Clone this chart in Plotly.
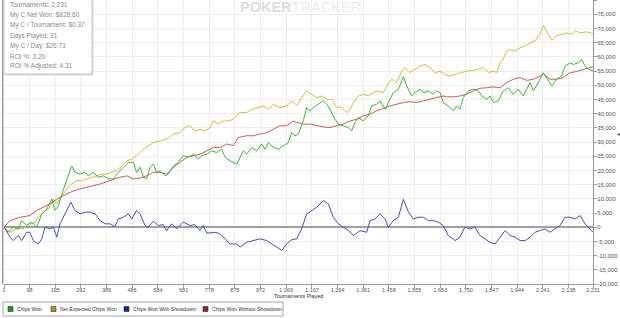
import plotly.graph_objects as go

# ---------------- data ----------------
cw_x = [1, 17, 36, 55, 68, 87, 106, 125, 144, 163, 182, 194, 207, 220, 238, 257, 270, 289, 308, 320,
        339, 358, 377, 396, 415, 434, 453, 472, 491, 503, 516, 529, 541, 554, 566, 579, 592, 611, 623,
        642, 661, 680, 699, 718, 737, 750, 769, 787, 806, 825, 838, 857, 882, 895, 907, 920, 939, 958,
        977, 989, 1002, 1021, 1040, 1059, 1078, 1090, 1103, 1115, 1134, 1147, 1160, 1172, 1191, 1210,
        1223, 1235, 1254, 1267, 1286, 1305, 1317, 1330, 1343, 1361, 1380, 1393, 1412, 1425, 1444, 1462,
        1475, 1494, 1513, 1526, 1544, 1557, 1576, 1589, 1608, 1626, 1639, 1652, 1664, 1683, 1702, 1715,
        1727, 1740, 1759, 1778, 1797, 1810, 1829, 1841, 1854, 1872, 1891, 1910, 1929, 1948, 1967, 1980,
        1993, 2005, 2024, 2043, 2062, 2075, 2093, 2112, 2125, 2144, 2157, 2175, 2188, 2201, 2213, 2231]
cw_y = [0, -1800, 0, -600, 2300, 600, 1800, 0, 4700, 6400, 9900, 5900, 7600, 11700, 16400, 21600, 19300,
        18700, 19300, 18100, 19300, 17600, 18100, 17000, 17000, 19300, 21100, 22800, 22800, 19300, 21100,
        17600, 17000, 21100, 22200, 19300, 19900, 18100, 18700, 21600, 22800, 25200, 24600, 25700, 24000,
        25200, 25700, 26900, 26300, 27500, 24600, 23400, 22200, 24600, 26900, 25700, 28100, 26900, 29300,
        27500, 29800, 28100, 27500, 28700, 29800, 33300, 32200, 32800, 37400, 42100, 41000, 42100, 43300,
        44500, 43300, 41500, 38000, 36300, 35700, 35100, 33900, 36900, 38600, 37400, 39200, 42700, 43300,
        44500, 41500, 45000, 47400, 48600, 53000, 49700, 46200, 47400, 48600, 47400, 48000, 46800, 48000,
        47400, 43900, 42700, 41000, 42700, 41500, 45600, 48000, 48600, 48000, 46200, 45000, 46200, 43900,
        44500, 48000, 49100, 46800, 48600, 46200, 48600, 50900, 48000, 50900, 54400, 51500, 49700, 52100,
        53200, 56700, 57900, 57300, 57900, 59100, 56700, 55600, 55000]

ne_x = [1, 24, 49, 74, 93, 112, 131, 150, 169, 188, 201, 220, 238, 257, 276, 295, 314, 333, 352, 371,
        390, 409, 428, 447, 466, 485, 503, 522, 541, 566, 592, 617, 642, 667, 686, 705, 724, 743, 762,
        781, 794, 812, 831, 850, 869, 895, 920, 939, 964, 983, 1002, 1021, 1046, 1071, 1090, 1109, 1128,
        1147, 1166, 1185, 1204, 1223, 1242, 1261, 1280, 1299, 1311, 1324, 1343, 1361, 1380, 1399, 1418,
        1437, 1450, 1469, 1488, 1507, 1519, 1538, 1557, 1576, 1595, 1614, 1633, 1652, 1671, 1690, 1709,
        1727, 1753, 1778, 1797, 1816, 1835, 1854, 1866, 1879, 1891, 1904, 1917, 1936, 1955, 1974, 1993,
        2011, 2030, 2043, 2056, 2075, 2093, 2112, 2131, 2150, 2163, 2182, 2207, 2231]
ne_y = [0, -1800, -600, -600, 1200, 1200, 3500, 5300, 6400, 9900, 8200, 11100, 13500, 15200, 16400,
        16400, 17000, 17600, 18100, 18700, 18700, 19300, 19900, 21600, 23400, 24000, 25200, 26900, 28100,
        29800, 30400, 31000, 32800, 33300, 35100, 35700, 33900, 34500, 33900, 35100, 37400, 36300, 37400,
        37400, 38000, 40400, 40400, 41500, 42100, 42700, 41500, 43300, 42100, 42700, 44500, 42700, 45600,
        48000, 46800, 45600, 46200, 45000, 45000, 42100, 42100, 40400, 41500, 43900, 46200, 46800, 46200,
        47400, 48000, 47400, 49700, 52100, 50900, 55000, 56200, 54400, 55600, 56700, 57300, 56200, 54400,
        55000, 53800, 53200, 53800, 54400, 55000, 55200, 55600, 56200, 54400, 55000, 54400, 57900, 59100,
        62000, 62600, 62000, 63200, 63800, 64900, 65500, 67900, 71000, 69000, 65800, 67300, 67900, 68400,
        67900, 69300, 68400, 68800, 68100]

ws_x = [1, 24, 36, 55, 68, 87, 99, 112, 131, 144, 156, 175, 188, 201, 213, 232, 254, 270, 289, 308,
        327, 346, 365, 384, 402, 421, 434, 453, 472, 485, 503, 516, 535, 547, 566, 585, 604, 617, 636,
        655, 680, 705, 724, 743, 755, 769, 800, 819, 838, 857, 882, 895, 920, 945, 970, 996, 1015, 1034,
        1053, 1071, 1090, 1109, 1128, 1147, 1166, 1185, 1210, 1229, 1248, 1267, 1286, 1305, 1324, 1349,
        1374, 1387, 1406, 1425, 1444, 1456, 1475, 1494, 1513, 1532, 1551, 1569, 1589, 1608, 1626, 1645,
        1664, 1683, 1709, 1727, 1746, 1765, 1784, 1803, 1822, 1841, 1860, 1879, 1898, 1917, 1936, 1955,
        1974, 1993, 2011, 2030, 2049, 2068, 2087, 2106, 2125, 2144, 2163, 2182, 2201, 2220, 2231]
ws_y = [0, -3500, -4700, -2900, -4700, -1800, -1800, -4700, -5900, -4100, 0, -600, 0, -3500, 1200, 4700,
        8800, 5900, 4700, 5300, 5300, 4700, 2300, 1200, 1200, 200, 2900, 3500, 4700, 2900, 5900, 4700,
        600, 0, 2100, 600, 900, -1200, 1200, -600, 1800, 600, 900, -1200, 600, -2100, -1800, -2300, -4100,
        -5900, -5900, -7000, -5300, -4700, -4100, -4700, -5900, -7000, -8200, -5900, -4400, -4100, -600,
        4700, 5900, 7000, 9400, 8200, 3500, 1200, 0, -1200, -2900, -1200, -1800, 2300, 2900, 4700, 2900,
        0, 2300, 3500, 9800, 5300, 2900, 3500, 3500, 2300, 2300, 1800, 600, -2900, -4700, -3500, 0, -600,
        0, -2900, -4100, -5300, -5900, -3500, -1200, -2900, -3500, -4700, -4700, -3500, -1800, -1200, -600,
        -1800, -600, 600, 3500, 3500, 2900, 4100, 1200, -600, -1800]

wos_x = [1, 24, 62, 99, 125, 150, 175, 201, 226, 251, 289, 327, 365, 402, 440, 466, 491, 516, 541, 566,
         592, 617, 642, 667, 693, 718, 743, 769, 794, 819, 844, 869, 888, 920, 945, 970, 996, 1021, 1046,
         1071, 1096, 1109, 1134, 1160, 1185, 1210, 1235, 1261, 1286, 1311, 1336, 1361, 1387, 1412, 1437,
         1462, 1488, 1513, 1538, 1563, 1589, 1614, 1639, 1664, 1677, 1702, 1727, 1753, 1778, 1803, 1829,
         1854, 1879, 1904, 1929, 1955, 1980, 2005, 2030, 2043, 2068, 2093, 2119, 2144, 2169, 2194, 2220, 2231]
wos_y = [0, 2300, 3500, 4100, 5900, 7000, 8200, 9900, 11100, 12300, 13500, 14300, 15200, 16400, 17600,
         18100, 17000, 17300, 18100, 19300, 19300, 18700, 21000, 22800, 24600, 25200, 25700, 26900, 28100,
         28100, 29300, 28700, 31600, 32200, 32200, 32800, 33300, 34500, 35700, 35700, 37400, 36900, 36300,
         36300, 35700, 35300, 35100, 35700, 36300, 37400, 38000, 39200, 39800, 41000, 41900, 42700, 43300,
         43900, 44200, 43900, 44500, 45000, 45600, 46200, 45900, 45900, 46200, 46800, 48000, 48900, 49100,
         49400, 49100, 50900, 52100, 52700, 51700, 52100, 53200, 54100, 52100, 52100, 52700, 54400, 54800,
         55600, 56400, 56600]

x_ticks = [1, 98, 195, 292, 389, 486, 584, 681, 778, 875, 972, 1069, 1167, 1264, 1361, 1458, 1555,
           1653, 1750, 1847, 1944, 2041, 2138, 2231]
x_tick_text = ["1", "98", "195", "292", "389", "486", "584", "681", "778", "875", "972", "1,069",
               "1,167", "1,264", "1,361", "1,458", "1,555", "1,653", "1,750", "1,847", "1,944", "2,041",
               "2,138", "2,231"]
y_ticks = list(range(-20000, 80001, 5000))
y_tick_text = ["-20,000", "-15,000", "-10,000", "-5,000", "0", "5,000", "10,000", "15,000", "20,000",
               "25,000", "30,000", "35,000", "40,000", "45,000", "50,000", "55,000", "60,000", "65,000",
               "70,000", "75,000", "80,000"]

stats_lines = ["Tournaments: 2,231", "My C Net Won: $828.60", "My C / Tournament: $0.37",
               "Days Played: 31", "My C / Day: $26.73", "ROI %: 2.20", "ROI % Adjusted: 4.31"]

legend_names = ["Chips Won", "Net Expected Chips Won", "Chips Won With Showdown",
                "Chips Won Without Showdown"]
legend_colors = ["#1c9c1c", "#a0a018", "#1c1ca0", "#a01c1c"]

# ---------------- layout geometry ----------------
W, H = 620, 318
ML, MR, MT, MB = 4, 27, 0, 34
PW, PH = W - ML - MR, H - MT - MB


def px(x):
    return (x - ML) / PW


def py(y):
    return (MT + PH - y) / PH


FONT = "Liberation Sans, Arial, sans-serif"

fig = go.Figure()
series = [
    (ne_x, ne_y, "#c8c23c", legend_names[1]),
    (wos_x, wos_y, "#d05a5a", legend_names[3]),
    (cw_x, cw_y, "#3cb83c", legend_names[0]),
    (ws_x, ws_y, "#4c4cc0", legend_names[2]),
]
for xs, ys, col, nm in series:
    fig.add_trace(go.Scatter(x=xs, y=ys, mode="lines", name=nm,
                             line=dict(color=col, width=1), showlegend=False))

shapes = []
annotations = []

# left frame line
shapes.append(dict(type="line", xref="paper", yref="paper", x0=px(2.7), x1=px(2.7), y0=0, y1=1,
                   line=dict(color="#999999", width=1.5), layer="above"))

# stats box
shapes.append(dict(type="rect", xref="paper", yref="paper", x0=px(5), x1=px(93), y0=py(75), y1=py(-2),
                   line=dict(color="#dcdcdc", width=1), fillcolor="#e8e8e8", layer="above"))
shapes.append(dict(type="rect", xref="paper", yref="paper", x0=px(4), x1=px(92), y0=py(74), y1=py(-2),
                   line=dict(color="#c4c4c4", width=1), fillcolor="white", layer="above"))
for i, t in enumerate(stats_lines):
    annotations.append(dict(x=px(8), y=py(4.7 + i * 10.27), xref="paper", yref="paper", text=t,
                            showarrow=False, xanchor="left", yanchor="middle",
                            font=dict(family=FONT, size=6.5, color="#8a8a8a")))

# watermark
annotations.append(dict(x=px(300), y=py(6.5), xref="paper", yref="paper",
                        text="<b>POKER</b><span style='color:#ececec'>TRACKER</span>",
                        showarrow=False, xanchor="center", yanchor="middle",
                        font=dict(family=FONT, size=14.5, color="#dedede")))

# axis title
annotations.append(dict(x=px(298), y=py(296), xref="paper", yref="paper", text="Tournaments Played",
                        showarrow=False, xanchor="center", yanchor="middle",
                        font=dict(family=FONT, size=5.4, color="#333333")))

# small marker at right edge
annotations.append(dict(x=px(618), y=py(133.5), xref="paper", yref="paper", text="◂",
                        showarrow=False, xanchor="center", yanchor="middle",
                        font=dict(family=FONT, size=6, color="#555555")))

# legend box
shapes.append(dict(type="rect", xref="paper", yref="paper", x0=px(3), x1=px(283), y0=py(316), y1=py(302),
                   line=dict(color="#a8a8a8", width=1), fillcolor="white"))
sq_x = [8, 51, 124, 203]
for i, (nm, col) in enumerate(zip(legend_names, legend_colors)):
    shapes.append(dict(type="rect", xref="paper", yref="paper", x0=px(sq_x[i]), x1=px(sq_x[i] + 5),
                       y0=py(311.5), y1=py(306.5), line=dict(color="#333333", width=0.6),
                       fillcolor=col))
    annotations.append(dict(x=px(sq_x[i] + 6.5), y=py(309), xref="paper", yref="paper", text=nm,
                            showarrow=False, xanchor="left", yanchor="middle",
                            font=dict(family=FONT, size=5.1, color="#333333")))

fig.update_layout(
    width=W, height=H,
    margin=dict(l=ML, r=MR, t=MT, b=MB, pad=0),
    paper_bgcolor="white", plot_bgcolor="white",
    shapes=shapes, annotations=annotations,
    showlegend=False,
    xaxis=dict(range=[1, 2231], tickmode="array", tickvals=x_ticks, ticktext=x_tick_text,
               showgrid=True, gridcolor="#eeeeee", gridwidth=1, zeroline=False,
               showline=True, linecolor="#999999", linewidth=1,
               ticks="outside", ticklen=3, tickcolor="#999999", ticklabelstandoff=-3,
               tickfont=dict(family=FONT, size=5.5, color="#555555")),
    yaxis=dict(range=[-20000, 80000], side="right", tickmode="array", tickvals=y_ticks,
               ticktext=y_tick_text, showgrid=True, gridcolor="#eeeeee", gridwidth=1,
               zeroline=True, zerolinecolor="#a0a0a0", zerolinewidth=1.5,
               showline=True, linecolor="#999999", linewidth=1,
               ticks="outside", ticklen=3, tickcolor="#999999", ticklabelstandoff=-1,
               tickfont=dict(family=FONT, size=6, color="#555555")),
)

fig.write_html("out.html")
